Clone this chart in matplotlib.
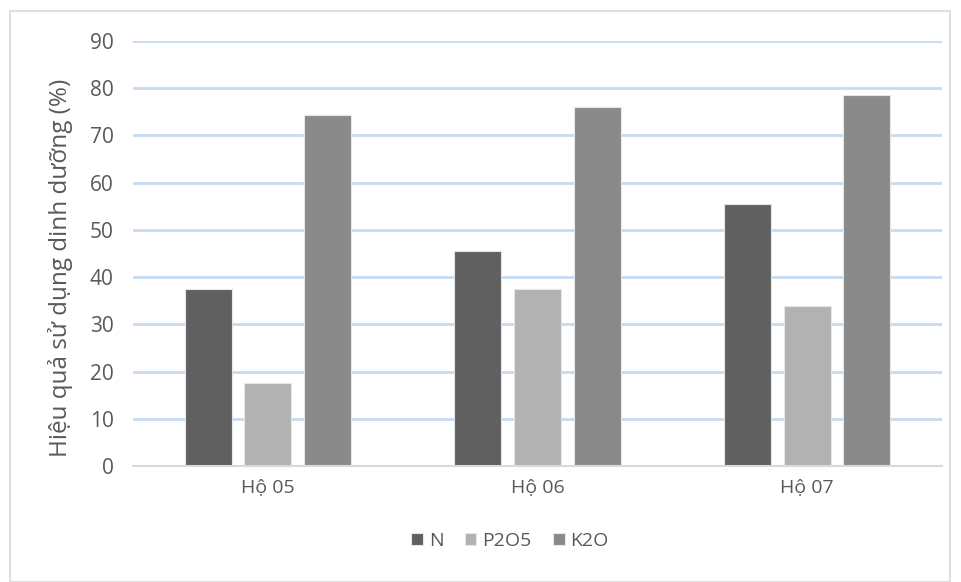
import numpy as np
import matplotlib.pyplot as plt
from matplotlib.patches import Rectangle

households = ['Hộ 05', 'Hộ 06', 'Hộ 07']
nutrients = ['N', 'P2O5', 'K2O']
n_vals = [37.4, 45.6, 55.4]
p2o5_vals = [17.5, 37.4, 33.8]
k2o_vals = [74.4, 76.0, 78.5]
colors = ['#606060', '#b2b2b2', '#8a8a8a']
yticks = list(range(0, 100, 10))

plt.rcParams['font.family'] = ['Open Sans', 'DejaVu Sans']
text_color = '#595959'

fig = plt.figure(figsize=(9.61, 5.82), dpi=100)
fig.patches.append(Rectangle((10 / 961, 0.0), 940 / 961, 1 - 11 / 582,
                             transform=fig.transFigure, fill=False,
                             edgecolor='#d9d9d9', linewidth=1.2))

ax = fig.add_axes([133 / 961, 1 - 466 / 582, 809 / 961, 425 / 582])

x = np.arange(len(households))
width = 0.175
step = 0.221
series = [n_vals, p2o5_vals, k2o_vals]
for i, (vals, name, c) in enumerate(zip(series, nutrients, colors)):
    ax.bar(x + (i - 1) * step, vals, width, color=c, label=name,
           edgecolor='#e6e6e6', linewidth=0.8, zorder=3)

ax.set_xlim(-0.5, 2.5)
ax.set_ylim(0, 90)
ax.set_yticks(yticks)
ax.set_xticks(x)
ax.set_xticklabels(households)
ax.tick_params(axis='y', length=0, colors=text_color, labelsize=15, pad=14)
ax.tick_params(axis='x', length=0, colors=text_color, labelsize=14, pad=9)
ax.grid(axis='y', color='#c6dbf0', linewidth=2, zorder=0)
for s in ['left', 'right', 'top']:
    ax.spines[s].set_visible(False)
ax.spines['bottom'].set_color('#d9d9d9')
ax.spines['bottom'].set_linewidth(1.5)
ax.spines['bottom'].set_zorder(4)

ax.set_ylabel('Hiệu quả sử dụng dinh dưỡng (%)', fontsize=17.5,
              color=text_color)
ax.yaxis.set_label_coords(-60 / 809, (466 - 268) / 425)

fig.legend(loc='center', bbox_to_anchor=(510 / 961, 1 - 541 / 582), ncol=3,
           frameon=False, fontsize=14, labelcolor=text_color,
           handlelength=0.6, handleheight=0.6, handletextpad=0.3,
           columnspacing=1.1)

fig.savefig('out.png', dpi=100, facecolor='white')
